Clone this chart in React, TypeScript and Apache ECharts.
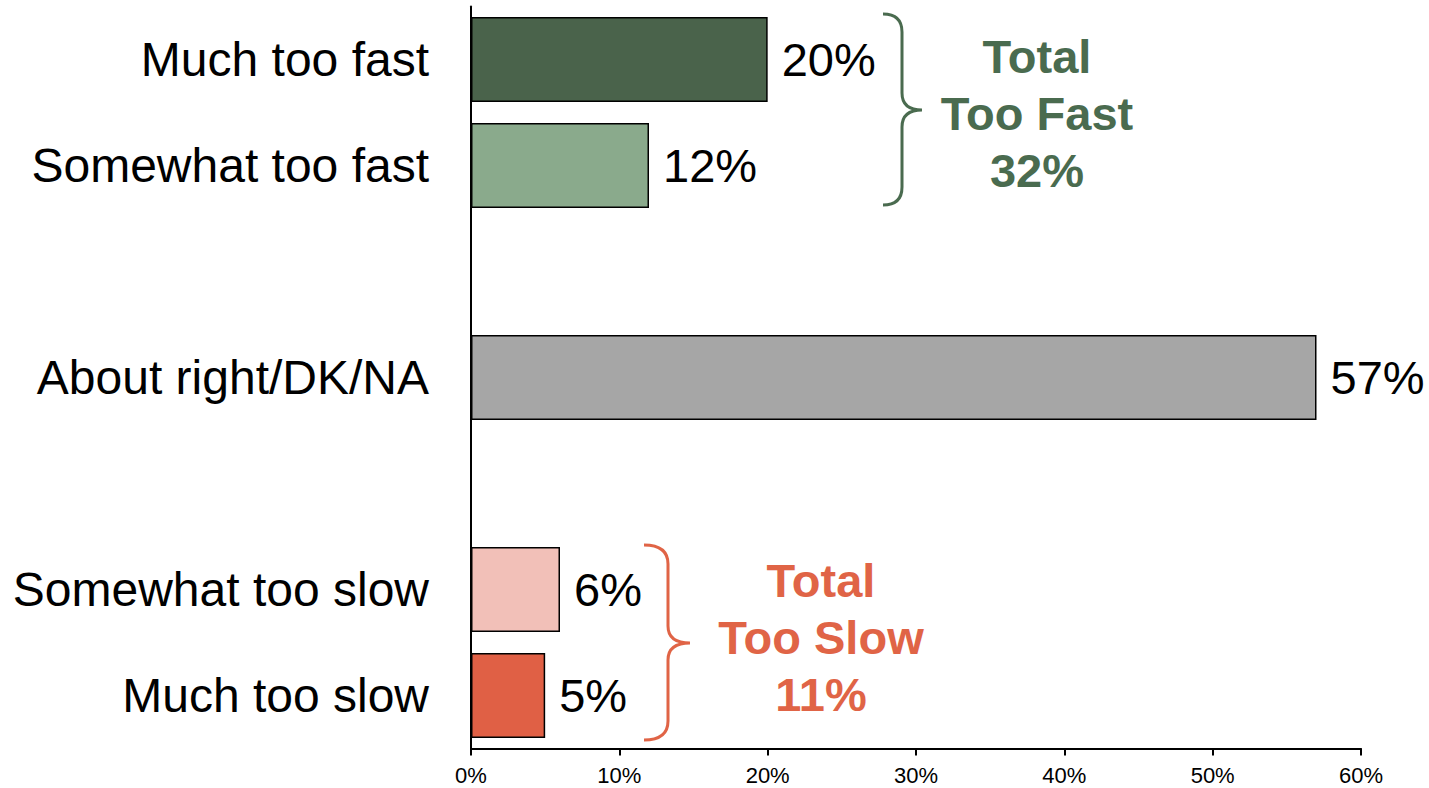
import React, { useEffect, useRef } from "react";
import * as echarts from "echarts";

const categories = [
  "Much too fast",
  "Somewhat too fast",
  "",
  "About right/DK/NA",
  "",
  "Somewhat too slow",
  "Much too slow",
];
const values: (number | null)[] = [20, 12, null, 57, null, 6, 5];
const barColors = ["#4a634b", "#8aaa8c", "#ffffff", "#a6a6a6", "#ffffff", "#f2c0b8", "#e06045"];
const xTicks = { min: 0, max: 60, interval: 10 };
const fastTotalText = ["Total", "Too Fast", "32%"];
const slowTotalText = ["Total", "Too Slow", "11%"];

const GREEN = "#4a6b4f";
const ORANGE = "#e06446";
const FONT = "'Liberation Sans', Arial, Helvetica, sans-serif";

const greenBrace =
  "M 883 14 Q 902 14 902 32 L 902 93 Q 902 110 922 110 Q 902 110 902 127 L 902 187 Q 902 205 883 205";
const orangeBrace =
  "M 644 545 Q 668 545 668 564 L 668 626 Q 668 643 690 643 Q 668 643 668 660 L 668 721 Q 668 740 644 740";

let registered = false;
function registerShapes() {
  if (registered) return;
  registered = true;
  echarts.graphic.registerShape("braceGreen", echarts.graphic.extendPath(greenBrace, {}) as any);
  echarts.graphic.registerShape("braceOrange", echarts.graphic.extendPath(orangeBrace, {}) as any);
}

export default function App() {
  const ref = useRef<HTMLDivElement>(null);
  useEffect(() => {
    if (!ref.current) return;
    registerShapes();
    const chart = echarts.init(ref.current, undefined, { renderer: "svg" });
    const option: any = {
      animation: false,
      backgroundColor: "#ffffff",
      grid: { left: 471, right: 68, top: 6.5, bottom: 39.5, containLabel: false },
      xAxis: {
        type: "value",
        min: xTicks.min,
        max: xTicks.max,
        interval: xTicks.interval,
        splitLine: { show: false },
        axisLine: { show: true, lineStyle: { color: "#000", width: 2 } },
        axisTick: { show: true, length: 7, lineStyle: { color: "#000", width: 2 } },
        axisLabel: {
          formatter: "{value}%",
          color: "#000",
          fontSize: 22,
          fontFamily: FONT,
          margin: 16,
        },
      },
      yAxis: {
        type: "category",
        inverse: true,
        data: categories,
        axisLine: { show: true, lineStyle: { color: "#000", width: 2 } },
        axisTick: { show: false },
        axisLabel: {
          color: "#000",
          fontSize: 48,
          fontFamily: FONT,
          margin: 42,
        },
      },
      series: [
        {
          type: "bar",
          barCategoryGap: "20%",
          data: values.map((v, i) => ({
            value: v === null ? "-" : v,
            itemStyle: { color: barColors[i], borderColor: "#000", borderWidth: 1.5 },
          })),
          label: {
            show: true,
            position: "right",
            distance: 14,
            formatter: "{c}%",
            color: "#000",
            fontSize: 47,
            fontFamily: FONT,
          },
        },
      ],
      graphic: [
        {
          type: "braceGreen",
          x: 0,
          y: 0,
          style: { stroke: GREEN, fill: "none", lineWidth: 3 },
        },
        {
          type: "braceOrange",
          x: 0,
          y: 0,
          style: { stroke: ORANGE, fill: "none", lineWidth: 3 },
        },
        {
          type: "text",
          x: 1037,
          y: 113,
          style: {
            text: fastTotalText.join("\n"),
            fill: GREEN,
            fontSize: 47,
            fontWeight: "bold",
            fontFamily: FONT,
            align: "center",
            verticalAlign: "middle",
            lineHeight: 57,
          },
        },
        {
          type: "text",
          x: 821,
          y: 637,
          style: {
            text: slowTotalText.join("\n"),
            fill: ORANGE,
            fontSize: 47,
            fontWeight: "bold",
            fontFamily: FONT,
            align: "center",
            verticalAlign: "middle",
            lineHeight: 57,
          },
        },
      ],
    };
    chart.setOption(option);
    return () => chart.dispose();
  }, []);
  return (
    <div
      ref={ref}
      style={{ position: "fixed", left: 0, top: 0, width: 1429, height: 788, background: "#fff" }}
    />
  );
}
